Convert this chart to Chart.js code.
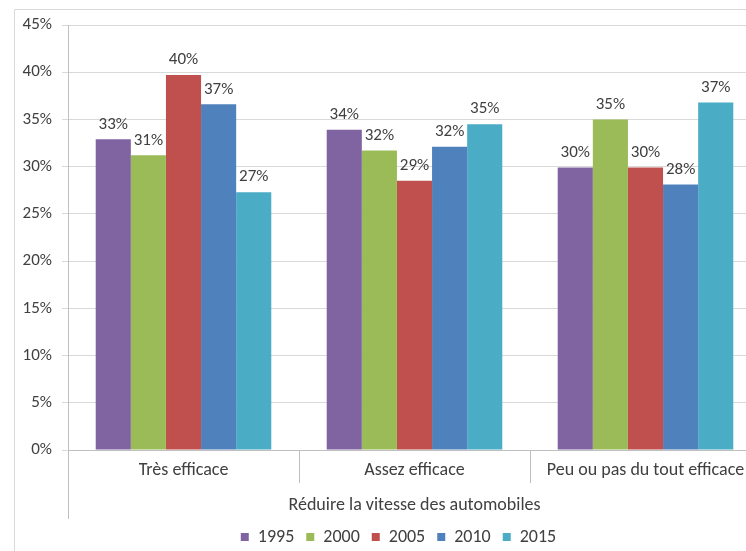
<!DOCTYPE html>
<html><head><meta charset="utf-8">
<script src="https://cdn.jsdelivr.net/npm/chart.js@4"></script>
<style>
html,body{margin:0;padding:0;overflow:hidden;background:#fff;width:746px;height:551px}
#wrap{position:absolute;left:0;top:0;width:790px;height:551px}
</style>
</head><body><div id="wrap"><canvas id="c" width="790" height="551"></canvas></div>
<script>
const categories = ['Très efficace', 'Assez efficace', 'Peu ou pas du tout efficace'];
const years = ['1995', '2000', '2005', '2010', '2015'];
const v1995 = [32.9, 33.9, 29.9];
const v2000 = [31.2, 31.7, 35.0];
const v2005 = [39.7, 28.5, 29.9];
const v2010 = [36.6, 32.1, 28.1];
const v2015 = [27.3, 34.5, 36.8];
const yMin = 0, yMax = 45, yStep = 5;
const axisTitle = 'Réduire la vitesse des automobiles';

const colors = ['#8064A2', '#9BBB59', '#C0504D', '#4F81BD', '#4BACC6'];
const seriesValues = [v1995, v2000, v2005, v2010, v2015];
const FONT = 'Carlito, Lato, sans-serif';
const FS = 17;   // ticks + value labels
const FL = 18;   // category labels, title, legend
const TXT = '#404040';

const labelPlugin = {
  id: 'valueLabels',
  afterDatasetsDraw(chart) {
    const ctx = chart.ctx;
    ctx.save();
    ctx.font = FS + 'px ' + FONT;
    ctx.fillStyle = TXT;
    ctx.textAlign = 'center';
    ctx.textBaseline = 'middle';
    chart.data.datasets.forEach((ds, di) => {
      const meta = chart.getDatasetMeta(di);
      meta.data.forEach((el, i) => {
        ctx.fillText(Math.round(ds.data[i]) + '%', el.x, el.y - 15);
      });
    });
    ctx.restore();
  }
};

const framePlugin = {
  id: 'frame',
  afterLayout(chart) {
    if (chart.legend) { chart.legend.left += 11; chart.legend.right += 11; }
  },
  afterDraw(chart) {
    const ctx = chart.ctx;
    const a = chart.chartArea;
    ctx.save();
    ctx.strokeStyle = '#d9d9d9';
    ctx.lineWidth = 1;
    ctx.beginPath();
    ctx.moveTo(14.5, chart.height);
    ctx.lineTo(14.5, 9.5);
    ctx.lineTo(chart.width, 9.5);
    ctx.stroke();
    ctx.strokeStyle = '#bfbfbf';
    ctx.beginPath();
    ctx.moveTo(Math.round(a.left) + 0.5, a.bottom);
    ctx.lineTo(Math.round(a.left) + 0.5, a.bottom + 69);
    ctx.stroke();
    ctx.restore();
  }
};

new Chart(document.getElementById('c'), {
  type: 'bar',
  data: {
    labels: categories,
    datasets: years.map((y, i) => ({
      label: y,
      data: seriesValues[i],
      backgroundColor: colors[i],
      borderWidth: 0,
      barPercentage: 1,
      categoryPercentage: 0.76
    }))
  },
  options: {
    responsive: false,
    animation: false,
    devicePixelRatio: 1,
    layout: { padding: { left: 14, right: 29, top: 25, bottom: -5 } },
    plugins: {
      legend: {
        position: 'bottom',
        labels: { boxWidth: 8, boxHeight: 8, padding: 12, color: TXT, font: { family: FONT, size: FL } }
      },
      tooltip: { enabled: false }
    },
    scales: {
      x: {
        grid: { display: true, drawOnChartArea: false, drawTicks: true, tickLength: 33, offset: true, color: '#bfbfbf' },
        border: { display: true, color: '#bfbfbf' },
        ticks: { padding: -23, color: TXT, font: { family: FONT, size: FL }, maxRotation: 0, autoSkip: false },
        title: { display: true, text: axisTitle, color: TXT, font: { family: FONT, size: FL }, padding: { top: 0, bottom: 0 } },
        afterFit(s) { s.height = 66; }
      },
      y: {
        min: yMin, max: yMax,
        ticks: { stepSize: yStep, padding: 10, color: TXT, font: { family: FONT, size: FS }, callback: v => v + '%' },
        grid: { color: '#d9d9d9', tickLength: 6, drawTicks: true },
        border: { display: true, color: '#bfbfbf' },
        afterFit(s) { s.width = 54; }
      }
    }
  },
  plugins: [labelPlugin, framePlugin]
});
</script>
</body></html>
